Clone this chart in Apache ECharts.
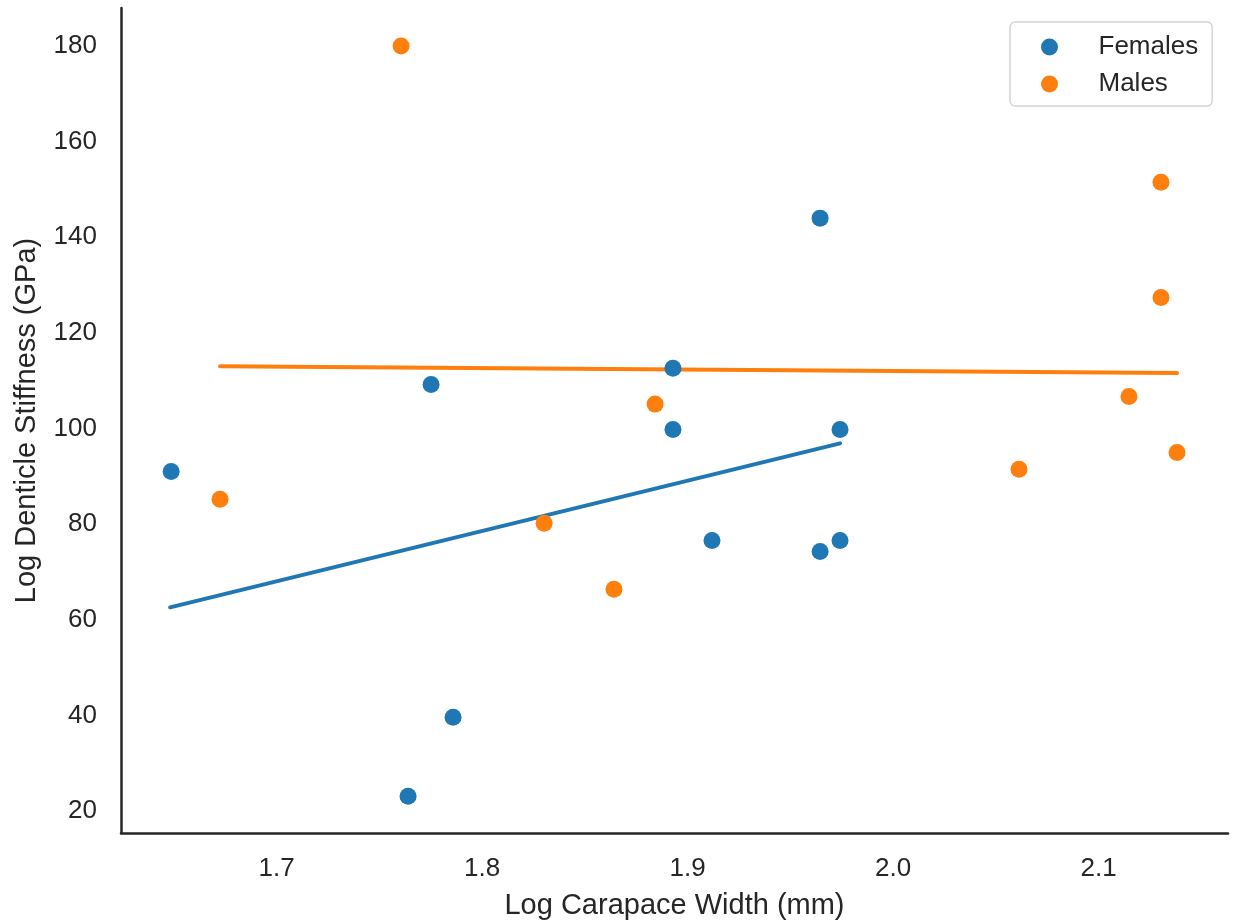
<!DOCTYPE html>
<html>
<head>
<meta charset="utf-8">
<script src="https://cdn.jsdelivr.net/npm/echarts@6/dist/echarts.min.js"></script>
<style>
  html, body { margin: 0; padding: 0; background: #fff; }
  #chart { width: 1233px; height: 922px; }
</style>
</head>
<body>
<div id="chart"></div>
<script>
// ---- data ----
const femalesX = [1.6487, 1.7752, 1.7640, 1.7859, 1.8929, 1.8929, 1.9119, 1.9645, 1.9645, 1.9742, 1.9742];
const femalesY = [91.0, 109.2, 23.1, 39.6, 112.6, 99.8, 76.6, 144.0, 74.3, 99.8, 76.6];
const malesX = [1.7606, 1.6725, 1.8302, 1.8642, 1.8842, 2.0613, 2.1148, 2.1304, 2.1304, 2.1382];
const malesY = [180.0, 85.2, 80.2, 66.4, 105.1, 91.5, 106.7, 151.5, 127.4, 95.0];
// fitted trend lines (end points)
const femalesFitX = [1.6482, 1.9742];
const femalesFitY = [62.6, 96.9];
const malesFitX = [1.6725, 2.1382];
const malesFitY = [113.0, 111.6];
// tick labels
const xTickValues = [1.7, 1.8, 1.9, 2.0, 2.1];
const yTickValues = [20, 40, 60, 80, 100, 120, 140, 160, 180];
const seriesNames = ['Females', 'Males'];
const xAxisTitle = 'Log Carapace Width (mm)';
const yAxisTitle = 'Log Denticle Stiffness (GPa)';

const FONT = '"Liberation Sans", Arial, Helvetica, sans-serif';
const TXT = '#262626';
const BLUE = '#1f77b4';
const ORANGE = '#ff7f0e';

const zip = (a, b) => a.map((v, i) => [v, b[i]]);

const chart = echarts.init(document.getElementById('chart'), null, { renderer: 'canvas' });
chart.setOption({
  animation: false,
  backgroundColor: '#ffffff',
  grid: { left: 121, right: 5, top: 8, bottom: 89, containLabel: false, outerBoundsMode: 'none' },
  xAxis: {
    type: 'value',
    min: 1.6243, max: 2.163,
    splitNumber: 5,
    name: xAxisTitle,
    nameLocation: 'middle',
    nameGap: 58,
    nameTextStyle: { fontFamily: FONT, fontSize: 29, color: TXT },
    axisLine: { show: true, lineStyle: { color: TXT, width: 2.5 } },
    axisTick: { show: false },
    splitLine: { show: false },
    axisLabel: {
      margin: 23, fontFamily: FONT, fontSize: 26, color: TXT,
      showMinLabel: false, showMaxLabel: false,
      formatter: function (v) {
        const m = xTickValues.find(t => Math.abs(t - v) < 1e-6);
        return m !== undefined ? m.toFixed(1) : '';
      }
    }
  },
  yAxis: {
    type: 'value',
    min: 15.4, max: 187.95,
    splitNumber: 8,
    name: yAxisTitle,
    nameLocation: 'middle',
    nameGap: 80,
    nameTextStyle: { fontFamily: FONT, fontSize: 29, color: TXT },
    axisLine: { show: true, lineStyle: { color: TXT, width: 2.5 } },
    axisTick: { show: false },
    splitLine: { show: false },
    axisLabel: {
      margin: 24, fontFamily: FONT, fontSize: 26, color: TXT,
      padding: [4, 0, 0, 0],
      showMinLabel: false, showMaxLabel: false,
      formatter: function (v) {
        const m = yTickValues.find(t => Math.abs(t - v) < 1e-6);
        return m !== undefined ? String(m) : '';
      }
    }
  },
  legend: {
    data: seriesNames,
    orient: 'vertical',
    left: 1010, top: 22,
    padding: [10, 14, 7, 31],
    itemWidth: 26, itemHeight: 17, itemGap: 7,
    icon: 'circle',
    borderColor: '#d4d4d4', borderWidth: 1.5, borderRadius: 5,
    backgroundColor: '#ffffff',
    textStyle: { fontFamily: FONT, fontSize: 26, lineHeight: 30, color: TXT, padding: [0, 0, 0, 31] }
  },
  series: [
    {
      name: 'Females fit', type: 'line', data: zip(femalesFitX, femalesFitY),
      symbol: 'none', z: 2,
      lineStyle: { color: BLUE, width: 4, cap: 'round' }
    },
    {
      name: 'Males fit', type: 'line', data: zip(malesFitX, malesFitY),
      symbol: 'none', z: 2,
      lineStyle: { color: ORANGE, width: 4, cap: 'round' }
    },
    {
      name: seriesNames[0], type: 'scatter', data: zip(femalesX, femalesY),
      symbol: 'circle', symbolSize: 17, z: 3,
      itemStyle: { color: BLUE, opacity: 1 }
    },
    {
      name: seriesNames[1], type: 'scatter', data: zip(malesX, malesY),
      symbol: 'circle', symbolSize: 17, z: 3,
      itemStyle: { color: ORANGE, opacity: 1 }
    }
  ]
});
</script>
</body>
</html>
